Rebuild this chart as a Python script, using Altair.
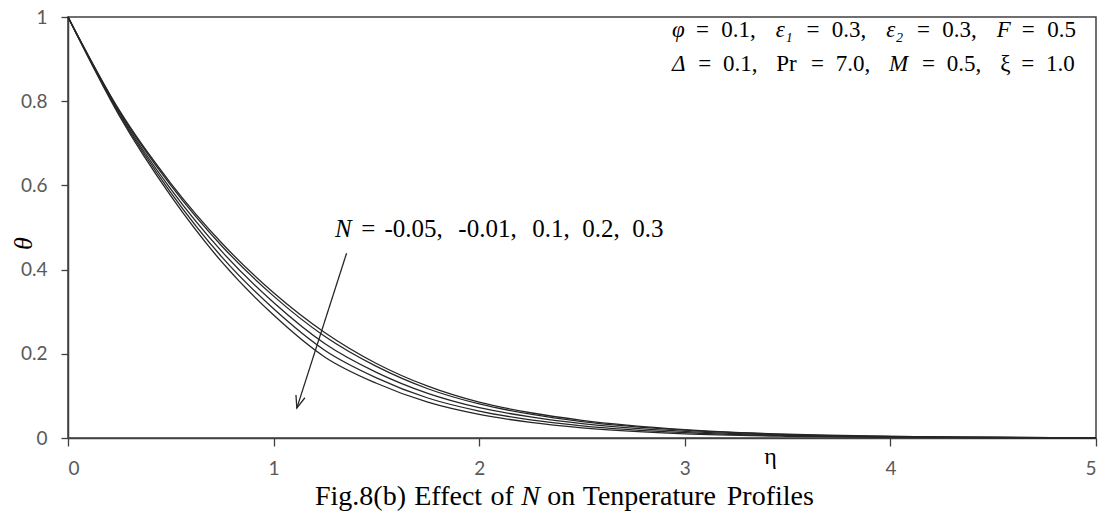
import altair as alt
import pandas as pd

# eta grid and temperature profiles
eta = [0, 0.25, 0.5, 0.75, 1.0, 1.25, 1.5, 1.75, 2.0, 2.25, 2.5, 3.0, 3.5, 4.0, 4.5, 5.0]
theta_m005 = [1.0, 0.778, 0.605, 0.462, 0.345, 0.250, 0.177, 0.123, 0.085, 0.060, 0.042, 0.020, 0.009, 0.004, 0.0018, 0.0008]
theta_m001 = [1.0, 0.776, 0.600, 0.455, 0.337, 0.241, 0.170, 0.117, 0.081, 0.0565, 0.039, 0.0185, 0.0082, 0.0036, 0.0016, 0.0007]
theta_p01 = [1.0, 0.772, 0.591, 0.442, 0.322, 0.224, 0.156, 0.106, 0.072, 0.050, 0.034, 0.0155, 0.0067, 0.0029, 0.0013, 0.0005]
theta_p02 = [1.0, 0.769, 0.583, 0.429, 0.307, 0.208, 0.143, 0.095, 0.064, 0.043, 0.029, 0.0127, 0.0053, 0.0022, 0.0009, 0.0004]
theta_p03 = [1.0, 0.765, 0.575, 0.417, 0.292, 0.192, 0.130, 0.085, 0.056, 0.037, 0.024, 0.010, 0.004, 0.0015, 0.0006, 0.0002]
n_values = ["-0.05", "-0.01", "0.1", "0.2", "0.3"]
series = [theta_m005, theta_m001, theta_p01, theta_p02, theta_p03]

x_ticks = [0, 1, 2, 3, 4, 5]
y_ticks = [0, 0.2, 0.4, 0.6, 0.8, 1.0]

# arrow annotation (data coordinates)
arrow_eta = [1.355, 1.113]
arrow_theta = [0.439, 0.071]

# text tokens (text, italic)
n_label_tokens = [("N", True), ("=", False), ("-0.05,", False), ("-0.01,", False),
                  ("0.1,", False), ("0.2,", False), ("0.3", False)]
param_line1 = [("φ", True), ("=", False), ("0.1,", False), ("ε₁", True), ("=", False),
               ("0.3,", False), ("ε₂", True), ("=", False), ("0.3,", False),
               ("F", True), ("=", False), ("0.5", False)]
param_line2 = [("Δ", True), ("=", False), ("0.1,", False), ("Pr", False), ("=", False),
               ("7.0,", False), ("M", True), ("=", False), ("0.5,", False),
               ("ξ", False), ("=", False), ("1.0", False)]
caption_tokens = [("Fig.8(b)", False), ("Effect", False), ("of", False), ("N", True),
                  ("on", False), ("Tenperature", False), ("Profiles", False)]

rows = []
for n, ys in zip(n_values, series):
    for e, t in zip(eta, ys):
        rows.append({"eta": e, "theta": t, "N": n})
df = pd.DataFrame(rows)

W, H = 1028, 421
L, T = 68, 17
AXC = "#404040"
LBC = "#595959"

xs = alt.Scale(domain=[0, 5], nice=False)
ys_ = alt.Scale(domain=[0, 1], nice=False)

x_axis = alt.Axis(values=x_ticks, format="d", grid=False, ticks=True, tickSize=8,
                  tickColor=AXC, domainColor=AXC, domainWidth=1.5, tickWidth=1.3,
                  labelColor=LBC, labelFont="Lato", labelFontSize=19, labelPadding=13,
                  title="η", titleFont="Liberation Serif", titleFontSize=24,
                  titleFontWeight="normal", titleColor="black",
                  titleX=770 - L, titleY=25, titleAlign="center", titleBaseline="alphabetic")
y_axis = alt.Axis(values=y_ticks, format="~g", grid=False, ticks=True, tickSize=7,
                  tickColor=AXC, domainColor=AXC, domainWidth=1.5, tickWidth=1.3,
                  labelColor=LBC, labelFont="Lato", labelFontSize=19, labelPadding=14,
                  labelAlign="right",
                  title="θ", titleFont="Liberation Serif", titleFontSize=26,
                  titleFontStyle="italic", titleFontWeight="normal", titleColor="black",
                  titleAngle=270, titleX=23 - L, titleY=243 - T,
                  titleAlign="center", titleBaseline="middle")

lines = alt.Chart(df).mark_line(interpolate="monotone", color="#262626", strokeWidth=1.3).encode(
    x=alt.X("eta:Q", scale=xs, axis=x_axis),
    y=alt.Y("theta:Q", scale=ys_, axis=y_axis),
    detail="N:N",
)

arrow_df = pd.DataFrame({"eta": arrow_eta, "theta": arrow_theta})
arrow_line = alt.Chart(arrow_df).mark_line(color="#262626", strokeWidth=1.3).encode(
    x=alt.X("eta:Q", scale=xs), y=alt.Y("theta:Q", scale=ys_))
arrow_head = alt.Chart(arrow_df.iloc[[1]]).mark_point(
    shape="M -0.38 -1 L 0 0 L 0.38 -1", filled=False, size=600, angle=17,
    color="#262626", strokeWidth=1.3, opacity=1).encode(
    x=alt.X("eta:Q", scale=xs), y=alt.Y("theta:Q", scale=ys_))

# approximate Times em widths, used only to spread tokens over the reference's span
CW = {" ": .25, ".": .25, ",": .25, "=": .564, "-": .333, "(": .333, ")": .333,
      "F": .556, "E": .611, "T": .611, "P": .556, "N": .667, "M": .833, "Δ": .61,
      "f": .333, "i": .278, "l": .278, "t": .278, "r": .333, "s": .389,
      "e": .444, "c": .444, "a": .444, "φ": .52, "ε": .44, "ξ": .44,
      "₁": .3, "₂": .3}


def em(s):
    return sum(CW.get(c, .5) for c in s)


def spread(tokens, x0, x1, y, size):
    widths = [em(t) for t, _ in tokens]
    total = sum(widths) + 0.25 * (len(tokens) - 1)
    k = (x1 - x0) / total
    out = []
    cum = 0.0
    for (t, it), w in zip(tokens, widths):
        out.append(alt.Chart(pd.DataFrame({"t": [t]})).mark_text(
            align="left", baseline="alphabetic", font="Liberation Serif", fontSize=size,
            fontStyle="italic" if it else "normal", color="black").encode(
            x=alt.value(x0 + cum * k - L), y=alt.value(y - T), text="t:N"))
        cum += w + 0.25
    return out


texts = []
texts += spread(n_label_tokens, 335, 668, 237, 25)
texts += spread(param_line1, 672, 1086, 37, 23)
texts += spread(param_line2, 672, 1084, 71, 23)
texts += spread(caption_tokens, 315, 815, 505, 28)

chart = alt.layer(lines, arrow_line, arrow_head, *texts).properties(
    width=W, height=H,
    autosize=alt.AutoSizeParams(type="none"),
    padding={"left": L, "top": T, "right": 1104 - L - W, "bottom": 515 - T - H},
    background="white",
).configure_view(stroke=AXC, strokeWidth=1.5)

chart.save("out.html", embed_options={"renderer": "svg", "actions": False})
